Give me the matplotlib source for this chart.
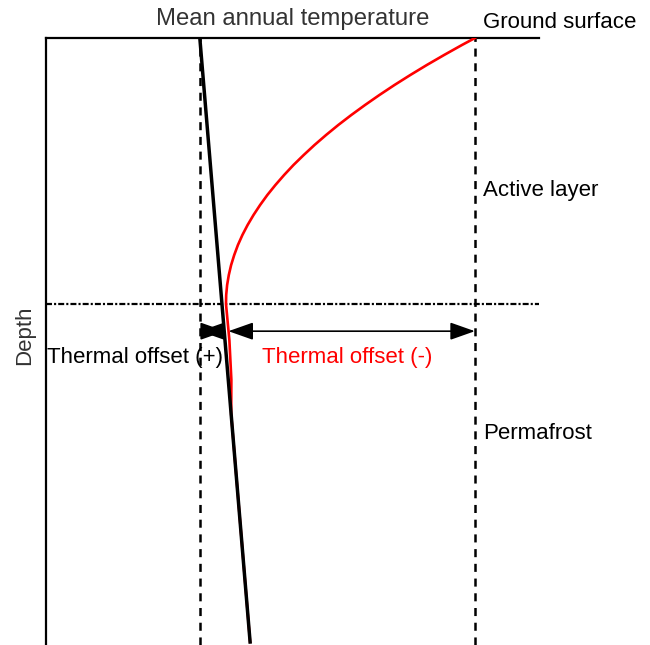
import numpy as np
import matplotlib
matplotlib.use("Agg")
import matplotlib.pyplot as plt
from matplotlib.patches import FancyArrowPatch

plt.rcParams['font.family'] = ['Liberation Sans', 'DejaVu Sans']
plt.rcParams['lines.scale_dashes'] = False

# schematic units: temperature 0..100 (left->right), depth 0..100 (top->bottom)
mat_temp = [31.2, 41.4]          # mean annual temperature profile (top, bottom)
mat_depth = [0.0, 99.5]
surf_temp = 87.0                 # ground surface temperature
pf_table = 43.8                  # top of permafrost
arrow_depth = 48.3

# red temperature envelope
env_depth = [0.0, 1.15, 2.80, 4.45, 6.10, 7.74, 9.39, 11.04, 12.69, 14.33,
             15.98, 17.63, 19.28, 20.92, 22.57, 24.22, 25.86, 27.51, 29.16,
             30.81, 32.45, 34.10, 35.75, 37.40, 39.04, 40.69, 42.34, 43.82,
             49.8, 56.3, 62.0, 99.5]
env_temp = [87.02, 84.38, 80.75, 77.24, 73.89, 70.69, 67.63, 64.71, 61.92,
            59.29, 56.81, 54.46, 52.27, 50.20, 48.30, 46.53, 44.90, 43.43,
            42.09, 40.89, 39.84, 38.93, 38.18, 37.55, 37.08, 36.74, 36.55,
            36.51, 37.2, 37.6, 37.56, 41.4]

fig = plt.figure(figsize=(6.5, 6.45), dpi=100)
ax = fig.add_axes([46/650, 0.0, 493/650, 607/645])
ax.set_xlim(0, 100)
ax.set_ylim(100, 0)

ax.plot(env_temp, env_depth, color='red', lw=1.9, zorder=3)
ax.plot(mat_temp, mat_depth, color='black', lw=2.5, zorder=4)

dash = (0, (5.8, 4.8))
ax.axvline(mat_temp[0], color='black', lw=1.8, ls=dash, zorder=2)
ax.axvline(surf_temp, color='black', lw=1.8, ls=dash, zorder=2)
ax.axhline(pf_table, color='black', lw=1.6, ls=(0, (4.3, 1.5, 1.5, 1.5)), zorder=2)

for x0, x1 in [(mat_temp[0], 36.3), (37.0, surf_temp)]:
    ax.add_patch(FancyArrowPatch((x0, arrow_depth), (x1, arrow_depth),
                                 arrowstyle='<|-|>,head_length=0.85,head_width=0.3',
                                 mutation_scale=18, color='black', lw=1.2,
                                 shrinkA=0, shrinkB=0, zorder=5))

for s in ['right', 'bottom']:
    ax.spines[s].set_visible(False)
for s in ['left', 'top']:
    ax.spines[s].set_linewidth(1.6)
ax.set_xticks([])
ax.set_yticks([])

ax.xaxis.set_label_position('top')
ax.set_xlabel('Mean annual temperature', fontsize=17.2, color='#333333', labelpad=9)
ax.set_ylabel('Depth', fontsize=16, color='#333333')
ax.yaxis.set_label_coords(-0.022, 0.51)

ax.text(88.6, -2.6, 'Ground surface', fontsize=16, ha='left', va='center', clip_on=False)
ax.text(88.6, 25.2, 'Active layer', fontsize=16, ha='left', va='center')
ax.text(88.6, 65.1, 'Permafrost', fontsize=16, ha='left', va='center')
ax.text(0.2, 52.7, 'Thermal offset (+)', fontsize=16, ha='left', va='center')
ax.text(43.8, 52.7, 'Thermal offset (-)', fontsize=16, ha='left', va='center', color='red')

fig.savefig('out.png', dpi=100)
